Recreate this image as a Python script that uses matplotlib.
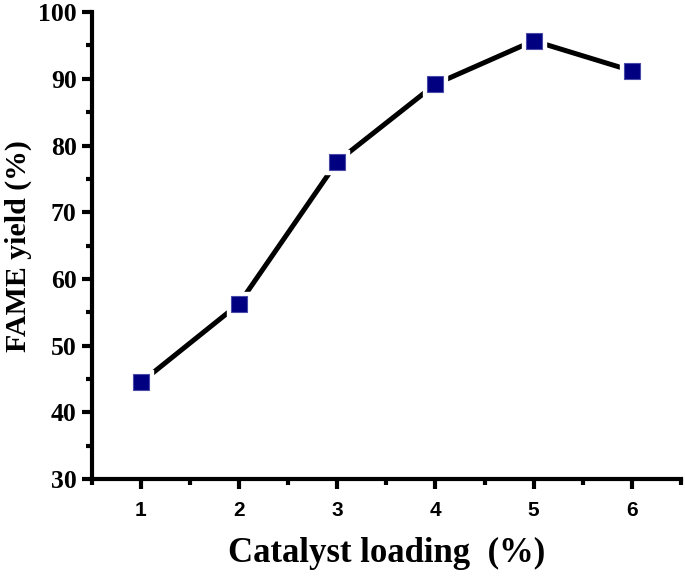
import matplotlib
matplotlib.use("Agg")
import matplotlib.pyplot as plt
from matplotlib.ticker import MultipleLocator

# catalyst loading (%) vs FAME yield (%)
loading = [1, 2, 3, 4, 5, 6]
fame_yield = [44.5, 56.3, 77.6, 89.2, 95.7, 91.2]
y_ticks = [30, 40, 50, 60, 70, 80, 90, 100]

plt.rcParams["font.weight"] = "bold"

fig = plt.figure(figsize=(6.85, 5.76), dpi=100)
ax = fig.add_axes([0.134, 0.168, 0.860, 0.811])

ax.plot(loading, fame_yield, color="black", lw=3.6, zorder=2)
# white squares behind the markers give the gap around each point
ax.plot(loading, fame_yield, "s", ms=17, color="white", mec="white", zorder=3)
ax.plot(loading, fame_yield, "s", ms=11.5, color="#000080", mec="#4a4aa8", mew=0.8, zorder=4)

ax.set_xlim(0.5, 6.5)
ax.set_ylim(30, 100)
ax.set_yticks(y_ticks)
ax.set_xticks(loading)
ax.yaxis.set_minor_locator(MultipleLocator(5))
ax.xaxis.set_minor_locator(MultipleLocator(0.5))

for s in ["top", "right"]:
    ax.spines[s].set_visible(False)
for s in ["left", "bottom"]:
    ax.spines[s].set_linewidth(3)

ax.tick_params(which="major", direction="out", length=7, width=3)
ax.tick_params(which="minor", direction="out", length=4, width=3)
ax.tick_params(axis="x", which="major", pad=9, labelsize=15, labelfontfamily="Liberation Sans")
ax.tick_params(axis="y", which="major", pad=4, labelsize=18.5, labelfontfamily="Liberation Serif")

ax.set_xlabel("Catalyst loading  (%)", fontfamily="Liberation Serif", fontweight="bold", fontsize=25, labelpad=12)
ax.set_ylabel("FAME yield (%)", fontfamily="Liberation Serif", fontweight="bold", fontsize=21.5)
ax.yaxis.set_label_coords(-0.102, 0.5)

fig.savefig("out.png", dpi=100)
